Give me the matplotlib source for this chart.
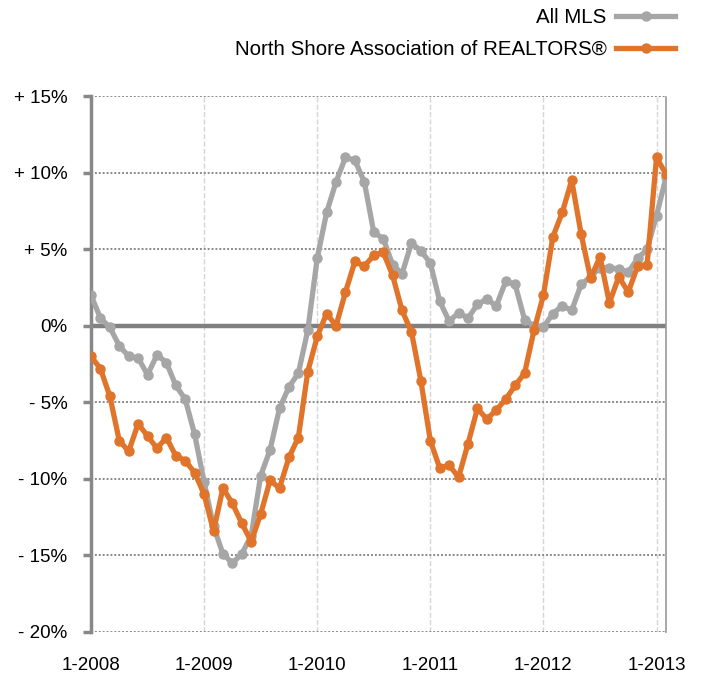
import numpy as np
import matplotlib.pyplot as plt

plt.rcParams['font.family'] = ['Liberation Sans', 'DejaVu Sans']

# Monthly values, Jan 2008 .. Feb 2013 (percent change)
all_mls = [2.0, 0.5, -0.1, -1.3, -2.0, -2.1, -3.2, -1.9, -2.4, -3.9, -4.8, -7.1,
           -10.2, -13.1, -14.9, -15.5, -14.9, -13.7, -9.8, -8.1, -5.4, -4.0, -3.1, -0.3,
           4.4, 7.4, 9.4, 11.0, 10.8, 9.4, 6.1, 5.7, 4.0, 3.4, 5.4, 4.9,
           4.1, 1.6, 0.3, 0.85, 0.5, 1.4, 1.75, 1.3, 2.9, 2.7, 0.4, 0.0,
           -0.1, 0.8, 1.3, 1.0, 2.7, 3.2, 3.8, 3.8, 3.7, 3.5, 4.4, 5.0,
           7.2, 9.7]
north_shore = [-2.0, -2.8, -4.6, -7.5, -8.2, -6.4, -7.2, -8.0, -7.3, -8.5, -8.8, -9.6,
               -11.0, -13.4, -10.6, -11.6, -12.9, -14.1, -12.3, -10.1, -10.6, -8.6, -7.3, -3.0,
               -0.7, 0.8, 0.0, 2.2, 4.2, 3.9, 4.6, 4.8, 3.3, 1.0, -0.4, -3.6,
               -7.5, -9.3, -9.1, -9.9, -7.7, -5.4, -6.1, -5.5, -4.8, -3.9, -3.1, -0.3,
               2.0, 5.8, 7.4, 9.5, 6.0, 3.1, 4.5, 1.5, 3.2, 2.2, 3.9, 4.0,
               11.0, 9.9]
year_labels = ['1-2008', '1-2009', '1-2010', '1-2011', '1-2012', '1-2013']
y_ticks = [15, 10, 5, 0, -5, -10, -15, -20]

gray = '#a6a6a6'
orange = '#e0742a'

fig = plt.figure(figsize=(7.01, 6.77), dpi=100)
ax = fig.add_axes([0.1298, 0.0665, 0.8202, 0.7915])

months = np.arange(len(all_mls))
ax.axhline(0, color='#808080', lw=3.2, zorder=2)
ax.plot(months, all_mls, color=gray, lw=3.8, marker='o', ms=6.5, label='All MLS', zorder=3)
ax.plot(months, north_shore, color=orange, lw=3.8, marker='o', ms=6.5,
        label='North Shore Association of REALTORS®', zorder=4)

ax.set_xlim(0, len(all_mls) - 1)
ax.set_ylim(-20, 15)
ax.set_yticks(y_ticks)
ax.set_yticklabels([('+ %d%%' % v) if v > 0 else ('0%' if v == 0 else '- %d%%' % -v) for v in y_ticks])
ax.set_xticks(np.arange(0, 61, 12))
ax.set_xticklabels(year_labels)

ax.grid(axis='y', color='#8a8a8a', ls=(0, (1, 1)), lw=1.4)
for x in np.arange(12, 61, 12):
    ax.axvline(x, color='#d6d6d6', ls='--', lw=1, zorder=1)

for s in ['top', 'bottom']:
    ax.spines[s].set_visible(False)
ax.spines['left'].set_color('#888888')
ax.spines['left'].set_linewidth(2.5)
ax.spines['right'].set_color('#999999')
ax.spines['right'].set_linestyle((0, (1, 1)))
ax.spines['right'].set_linewidth(1.2)

ax.tick_params(axis='y', length=6, width=2.5, color='#888888', labelsize=13.5, pad=11)
ax.tick_params(axis='x', length=0, labelsize=13.5, pad=18)

fig.legend(loc='upper right', bbox_to_anchor=(0.99, 1.015), frameon=False,
           markerfirst=False, numpoints=1, handlelength=2.9, fontsize=14.8,
           labelspacing=0.62, handletextpad=0.45)

fig.savefig('out.png', dpi=100)
